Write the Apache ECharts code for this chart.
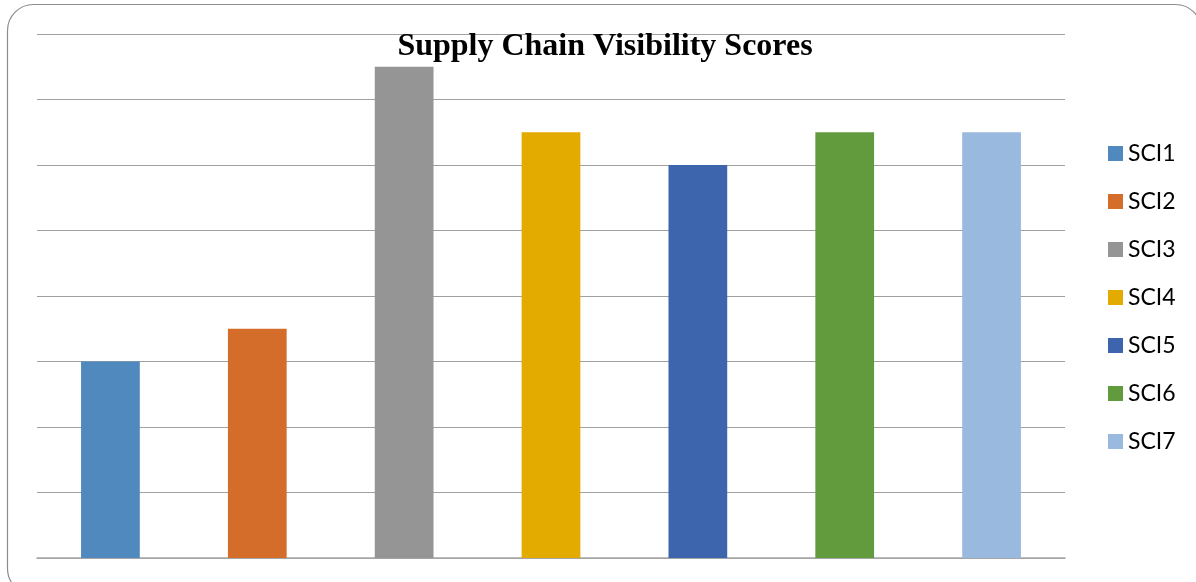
<!DOCTYPE html>
<html>
<head>
<meta charset="utf-8">
<script src="https://cdn.jsdelivr.net/npm/echarts@6/dist/echarts.min.js"></script>
<style>
  html, body { margin: 0; padding: 0; background: #ffffff; }
  #chart { width: 1196px; height: 582px; }
</style>
</head>
<body>
<div id="chart"></div>
<script>
// Visibility score per supply chain indicator
const categories = ['SCI1', 'SCI2', 'SCI3', 'SCI4', 'SCI5', 'SCI6', 'SCI7'];
const scores = [3, 3.5, 7.5, 6.5, 6, 6.5, 6.5];
const colors = ['#4f89bd', '#d46d29', '#959595', '#e3aa00', '#3d65ae', '#629b3e', '#99b9df'];

// One series per indicator so each gets its own legend entry;
// stacking keeps each bar centred in its own category slot.
const series = categories.map((name, i) => ({
  name: name,
  type: 'bar',
  stack: 'scores',
  barWidth: '40%',
  itemStyle: { color: colors[i] },
  data: categories.map((_, j) => (j === i ? scores[i] : null))
}));

const chart = echarts.init(document.getElementById('chart'), null, { renderer: 'canvas' });
chart.setOption({
  animation: false,
  backgroundColor: '#ffffff',
  title: {
    text: 'Supply Chain Visibility Scores',
    left: 600,
    top: 26,
    textAlign: 'center',
    textStyle: {
      fontFamily: 'Liberation Serif',
      fontWeight: 'bold',
      fontSize: 32,
      color: '#000000'
    }
  },
  legend: {
    orient: 'vertical',
    left: 1103,
    top: 137,
    itemWidth: 15,
    itemHeight: 15,
    itemGap: 25,
    icon: 'rect',
    textStyle: { fontFamily: 'Lato', fontSize: 23, color: '#000000' },
    data: categories
  },
  grid: { left: 37, right: 131, top: 34, bottom: 24, containLabel: false },
  xAxis: {
    type: 'category',
    data: categories,
    axisLine: { show: true, lineStyle: { color: '#a6a6a6', width: 1.5 } },
    axisTick: { show: false },
    axisLabel: { show: false }
  },
  yAxis: {
    type: 'value',
    min: 0,
    max: 8,
    interval: 1,
    axisLine: { show: false },
    axisTick: { show: false },
    axisLabel: { show: false },
    splitLine: { lineStyle: { color: '#a0a0a0', width: 1 } }
  },
  graphic: [{
    type: 'rect',
    shape: { x: 7.5, y: 4.5, width: 1194, height: 590, r: 26 },
    style: { fill: 'none', stroke: '#8c8c8c', lineWidth: 1.2 },
    silent: true,
    z: 100
  }],
  series: series
});
</script>
</body>
</html>
